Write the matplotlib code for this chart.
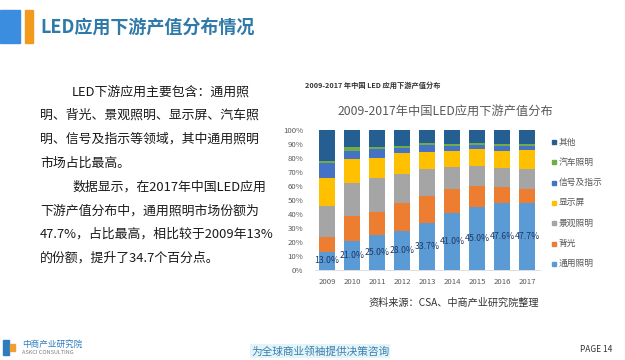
import matplotlib
matplotlib.use("Agg")
import matplotlib.pyplot as plt
from matplotlib.patches import Rectangle
import numpy as np

plt.rcParams['font.family'] = ['Noto Sans CJK SC', 'DejaVu Sans']

years = ['2009', '2010', '2011', '2012', '2013', '2014', '2015', '2016', '2017']
series_names = ['通用照明', '背光', '景观照明', '显示屏', '信号及指示', '汽车照明', '其他']
general = [13.0, 21.0, 25.0, 28.0, 33.7, 41.0, 45.0, 47.6, 47.7]
backlight = [10.8, 17.8, 16.5, 19.6, 19.2, 16.6, 15.0, 11.9, 9.9]
landscape = [21.9, 23.1, 24.5, 21.0, 19.0, 16.2, 14.3, 13.1, 14.3]
display = [20.3, 17.1, 14.2, 14.7, 12.6, 11.4, 11.9, 12.6, 13.8]
signal = [10.2, 6.2, 6.2, 4.0, 4.8, 3.4, 2.8, 3.4, 2.9]
auto = [1.9, 2.4, 1.6, 1.5, 1.7, 1.4, 1.5, 1.4, 1.4]
other = [21.9, 12.4, 12.0, 11.2, 9.0, 10.0, 9.5, 10.0, 10.0]
label_texts = ['13.0%', '21.0%', '25.0%', '28.0%', '33.7%', '41.0%', '45.0%', '47.6%', '47.7%']
yticks = [0, 10, 20, 30, 40, 50, 60, 70, 80, 90, 100]

colors = ['#5B9BD5', '#ED7D31', '#A5A5A5', '#FFC000', '#4472C4', '#70AD47', '#255E91']
data = [general, backlight, landscape, display, signal, auto, other]

W, H = 625, 360
fig = plt.figure(figsize=(W / 100, H / 100), dpi=100)
fig.patch.set_facecolor('white')

def fx(x):
    return x / W

def fy(y):
    return 1 - y / H

# Title decoration
fig.patches.append(Rectangle((fx(0), fy(43)), 20 / W, 33 / H, transform=fig.transFigure,
                             color='#3B8DE0', zorder=1))
fig.patches.append(Rectangle((fx(25), fy(43)), 8 / W, 33 / H, transform=fig.transFigure,
                             color='#F29A1E', zorder=1))
fig.text(fx(40), fy(27), 'LED应用下游产值分布情况', fontsize=13, fontweight='bold',
         color='#2F7AA8', va='center', ha='left')

# Left paragraph
lines = [
    (72, 'LED下游应用主要包含：通用照'),
    (40, '明、背光、景观照明、显示屏、汽车照'),
    (40, '明、信号及指示等领域，其中通用照明'),
    (40, '市场占比最高。'),
    (72, '数据显示，在2017年中国LED应用'),
    (40, '下游产值分布中，通用照明市场份额为'),
    (40, '47.7%，占比最高，相比较于2009年13%'),
    (40, '的份额，提升了34.7个百分点。'),
]
for i, (x, t) in enumerate(lines):
    fig.text(fx(x), fy(91.7 + 23.8 * i), t, fontsize=9.3, color='#1a1a1a',
             va='center', ha='left')

# Small header and chart title
fig.text(fx(305), fy(85), '2009-2017 年中国 LED 应用下游产值分布', fontsize=5.2,
         fontweight='bold', color='#333333', va='center', ha='left')
fig.text(fx(445), fy(111), '2009-2017年中国LED应用下游产值分布', fontsize=8.8,
         color='#595959', va='center', ha='center')

# Chart
ax = fig.add_axes([fx(314.5), fy(270), 225 / W, 140 / H])
x = np.arange(len(years))
bottom = np.zeros(len(years))
for vals, c in zip(data, colors):
    ax.bar(x, vals, width=0.64, bottom=bottom, color=c, linewidth=0, zorder=2)
    bottom += np.array(vals)

for xi, v, t in zip(x, general, label_texts):
    ax.text(xi, v / 2, t, ha='center', va='center', fontsize=6.3, color='#1F3864', zorder=3)

ax.set_xlim(-0.5, len(years) - 0.5)
ax.set_ylim(0, 100)
ax.set_yticks(yticks)
ax.set_yticklabels([f'{t}%' for t in yticks])
ax.set_xticks(x)
ax.set_xticklabels(years)
ax.tick_params(axis='both', length=0, labelsize=5.6, labelcolor='#595959')
ax.tick_params(axis='y', pad=8)
ax.tick_params(axis='x', pad=6)
for s in ['top', 'right', 'left']:
    ax.spines[s].set_visible(False)
ax.spines['bottom'].set_color('#D9D9D9')
ax.spines['bottom'].set_linewidth(0.6)
ax.set_facecolor('none')

# Legend (top to bottom: reversed stacking order)
leg_y0 = 142
for j, (name, c) in enumerate(zip(series_names[::-1], colors[::-1])):
    yy = leg_y0 + 20.3 * j
    fig.patches.append(Rectangle((fx(552), fy(yy + 2)), 4 / W, 4 / H,
                                 transform=fig.transFigure, color=c))
    fig.text(fx(559), fy(yy), name, fontsize=6.3, color='#595959', va='center', ha='left')

# Source
fig.text(fx(368), fy(303), '资料来源：CSA、中商产业研究院整理', fontsize=7.3,
         color='#333333', va='center', ha='left')

# Footer
fig.patches.append(Rectangle((fx(3), fy(355)), 6 / W, 15 / H, transform=fig.transFigure,
                             color='#2E7CC0'))
fig.patches.append(Rectangle((fx(10), fy(351)), 5 / W, 7 / H, transform=fig.transFigure,
                             color='#F0A030'))
fig.text(fx(22), fy(344), '中商产业研究院', fontsize=6.2, color='#2E7CC0',
         va='center', ha='left')
fig.text(fx(22), fy(353), 'ASKCI CONSULTING', fontsize=4.0, color='#7F7F7F',
         va='center', ha='left')
fig.text(fx(320), fy(351), '为全球商业领袖提供决策咨询', fontsize=7.7, color='#3A7DB0',
         style='italic', va='center', ha='center',
         bbox=dict(facecolor='#E2F4F8', edgecolor='none', pad=1.0))
fig.text(fx(596), fy(350), 'PAGE 14', fontsize=6.0, color='#333333', va='center', ha='center')

fig.savefig('out.png', dpi=100, facecolor='white')
